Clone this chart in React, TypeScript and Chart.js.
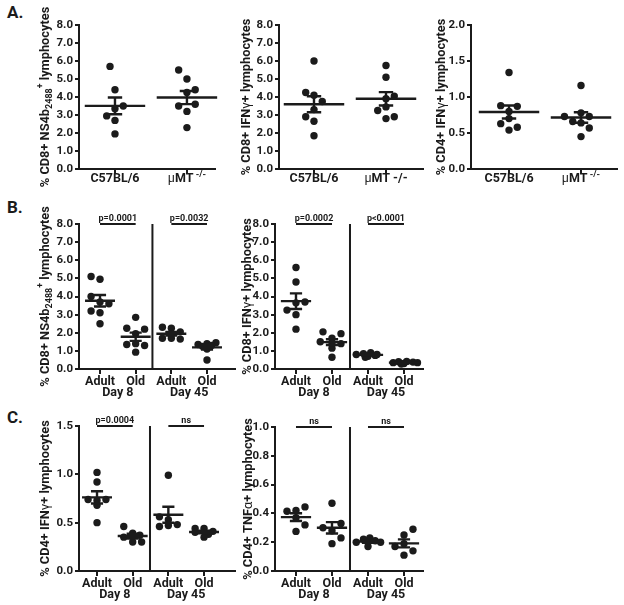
import React, { useEffect, useRef } from "react";
import { Chart, registerables } from "chart.js";

Chart.register(...registerables);

const INK = "#1b1b1b";
const FAM = 'Roboto, "DejaVu Sans", sans-serif';

// ---------- labels ----------
const aGroupLabels = ["C57BL/6", "μMT"];
const bcGroupLabels = ["Adult", "Old", "Adult", "Old"];
const bcDayLabels = ["Day 8", "Day 45"];
const sigB1 = ["p=0.0001", "p=0.0032"];
const sigB2 = ["p=0.0002", "p<0.0001"];
const sigC1 = ["p=0.0004", "ns"];
const sigC2 = ["ns", "ns"];

// ---------- data (values + jitter column) ----------
// A1  % CD8+ NS4b2488+
const a1C57 = [5.7, 4.4, 3.5, 3.35, 2.95, 2.7, 1.95];
const a1C57Col = [-0.6, 0, 1, 0, -1, 0, 0];
const a1MT = [5.5, 5.0, 4.4, 4.25, 3.6, 3.5, 3.2, 2.3];
const a1MTCol = [-1, 0, 1, 0, 1, -1, 0, 0];
// A2  % CD8+ IFNγ+
const a2C57 = [6.0, 4.25, 4.1, 3.75, 3.3, 2.9, 2.65, 1.85];
const a2C57Col = [0, -1, 0, 1, 0, -1, 0, 0];
const a2MT = [5.75, 5.1, 4.05, 3.9, 3.45, 3.25, 2.9, 2.8];
const a2MTCol = [0, 0, 1, 0, 0, -1, 1, 0];
// A3  % CD4+ IFNγ+
const a3C57 = [1.34, 0.88, 0.87, 0.8, 0.7, 0.63, 0.58, 0.54];
const a3C57Col = [0, -1, 1, 0, 0, -1, 1, 0];
const a3MT = [1.16, 0.78, 0.73, 0.73, 0.66, 0.64, 0.57, 0.45];
const a3MTCol = [0, 0, -2, 1, -1, 0, 1, 0];
// B1  % CD8+ NS4b2488+ (Adult D8, Old D8, Adult D45, Old D45)
const b1AdultD8 = [5.1, 4.95, 4.0, 3.7, 3.6, 3.2, 3.1, 2.5];
const b1AdultD8Col = [-1, 0, -1, 0, 1, -1, 0, 0];
const b1OldD8 = [2.85, 2.25, 2.2, 1.95, 1.4, 1.35, 1.3, 0.93];
const b1OldD8Col = [0, -1, 1, 0, 0, -1, 1, 0];
const b1AdultD45 = [2.3, 2.25, 2.05, 1.95, 1.7, 1.7, 1.65];
const b1AdultD45Col = [-1, 0, 1, 0, -1, 0, 1];
const b1OldD45 = [1.45, 1.4, 1.35, 1.3, 1.25, 1.1, 0.5];
const b1OldD45Col = [1, 0, -1, 0.5, -0.5, 0, 0];
// B2  % CD8+ IFNγ+
const b2AdultD8 = [5.6, 4.8, 3.7, 3.65, 3.25, 3.0, 2.2];
const b2AdultD8Col = [0, 0, 1, 0, -1, 0, 0];
const b2OldD8 = [2.05, 1.95, 1.7, 1.5, 1.45, 1.4, 1.15, 0.65];
const b2OldD8Col = [-1, 1, 0, -1.3, 0, 1, 0, 0];
const b2AdultD45 = [0.9, 0.85, 0.8, 0.8, 0.75, 0.7, 0.65];
const b2AdultD45Col = [0.3, -0.5, 1, -1.3, 0.8, 0, -0.3];
const b2OldD45 = [0.42, 0.4, 0.38, 0.35, 0.35, 0.3, 0.28];
const b2OldD45Col = [0.3, -0.6, 1, -1.2, 1.5, 0, -0.3];
// C1  % CD4+ IFNγ+
const c1AdultD8 = [1.02, 0.92, 0.74, 0.73, 0.74, 0.68, 0.5];
const c1AdultD8Col = [0, 0, -1, 0, 1, 0, 0];
const c1OldD8 = [0.46, 0.39, 0.37, 0.35, 0.3, 0.3];
const c1OldD8Col = [-1, 0, 0.8, -1, 0, 1];
const c1AdultD45 = [0.99, 0.56, 0.53, 0.48, 0.47, 0.46];
const c1AdultD45Col = [0, -1, 0, 1, 0, -1];
const c1OldD45 = [0.44, 0.44, 0.41, 0.4, 0.38, 0.35];
const c1OldD45Col = [-1, 0, 1, -1, 0.5, 0];
// C2  % CD4+ TNFα+
const c2AdultD8 = [0.445, 0.42, 0.415, 0.37, 0.32, 0.275];
const c2AdultD8Col = [1, 0, -1, 0, 1, 0];
const c2OldD8 = [0.47, 0.33, 0.3, 0.28, 0.23, 0.19];
const c2OldD8Col = [0, 1, -1, 0, 1, 0];
const c2AdultD45 = [0.23, 0.22, 0.21, 0.2, 0.2, 0.17];
const c2AdultD45Col = [0.2, -0.5, 0.8, -1.3, 1.4, 0];
const c2OldD45 = [0.29, 0.25, 0.19, 0.17, 0.14, 0.11];
const c2OldD45Col = [1, 0, 0, -1, 1, 0];

// ---------- titles (rich text segments) ----------
type Seg = [string, string];
const titleNS4b: Seg[] = [["% CD8+ NS4b", "n"], ["2488", "sub"], ["+", "sup"], [" lymphocytes", "n"]];
const titleCD8IFN: Seg[] = [["% CD8+ IFN", "n"], ["γ", "g"], ["+ lymphocytes", "n"]];
const titleCD4IFN: Seg[] = [["% CD4+ IFN", "n"], ["γ", "g"], ["+ lymphocytes", "n"]];
const titleCD4TNF: Seg[] = [["% CD4+ TNF", "n"], ["α", "g"], ["+ lymphocytes", "n"]];

const Y_W = 40;
const X_H = 30;
const TITLE_SIZE = 12.8;
const XLAB_SIZE = 12.5;

interface PanelCfg {
  key: string;
  box: number[];
  area: number[];
  yMax: number;
  yStep: number;
  xMin: number;
  xMax: number;
  title: Seg[];
  titleX: number;
  jit: number;
  cap: number;
  meanHalf: number;
  groups: number[][][];
  kind: "A" | "BC";
  supTight?: boolean;
  sig: string[];
  divider: number | null;
}

const panels: PanelCfg[] = [
  {
    key: "A1", box: [28, 0, 200, 200], area: [79, 25, 215, 169], yMax: 8, yStep: 1,
    xMin: 0.5, xMax: 2.39, title: titleNS4b, titleX: 44, jit: 0.115, cap: 0.1, meanHalf: 0.42,
    groups: [[a1C57, a1C57Col], [a1MT, a1MTCol]], kind: "A", supTight: true, sig: [], divider: null,
  },
  {
    key: "A2", box: [230, 0, 200, 200], area: [279, 25, 423, 169], yMax: 8, yStep: 1,
    xMin: 0.514, xMax: 2.514, title: titleCD8IFN, titleX: 245, jit: 0.115, cap: 0.1, meanHalf: 0.42,
    groups: [[a2C57, a2C57Col], [a2MT, a2MTCol]], kind: "A", supTight: false, sig: [], divider: null,
  },
  {
    key: "A3", box: [430, 0, 194, 200], area: [471, 25, 617, 169], yMax: 2, yStep: 0.5,
    xMin: 0.472, xMax: 2.5, title: titleCD4IFN, titleX: 440, jit: 0.115, cap: 0.1, meanHalf: 0.42,
    groups: [[a3C57, a3C57Col], [a3MT, a3MTCol]], kind: "A", supTight: true, sig: [], divider: null,
  },
  {
    key: "B1", box: [28, 198, 215, 202], area: [79, 224, 235, 369], yMax: 8, yStep: 1,
    xMin: 0.411, xMax: 4.785, title: titleNS4b, titleX: 44, jit: 0.25, cap: 0.17, meanHalf: 0.42,
    groups: [[b1AdultD8, b1AdultD8Col], [b1OldD8, b1OldD8Col], [b1AdultD45, b1AdultD45Col], [b1OldD45, b1OldD45Col]],
    kind: "BC", sig: sigB1, divider: 2.47,
  },
  {
    key: "B2", box: [232, 198, 200, 202], area: [275, 224, 423, 369], yMax: 8, yStep: 1,
    xMin: 0.417, xMax: 4.528, title: titleCD8IFN, titleX: 246, jit: 0.25, cap: 0.17, meanHalf: 0.42,
    groups: [[b2AdultD8, b2AdultD8Col], [b2OldD8, b2OldD8Col], [b2AdultD45, b2AdultD45Col], [b2OldD45, b2OldD45Col]],
    kind: "BC", sig: sigB2, divider: 2.5,
  },
  {
    key: "C1", box: [28, 400, 215, 205], area: [79, 426, 235, 571], yMax: 1.5, yStep: 0.5,
    xMin: 0.495, xMax: 4.868, title: titleCD4IFN, titleX: 44, jit: 0.25, cap: 0.17, meanHalf: 0.42,
    groups: [[c1AdultD8, c1AdultD8Col], [c1OldD8, c1OldD8Col], [c1AdultD45, c1AdultD45Col], [c1OldD45, c1OldD45Col]],
    kind: "BC", sig: sigC1, divider: 2.485,
  },
  {
    key: "C2", box: [232, 400, 200, 205], area: [275, 427, 423, 571], yMax: 1.0, yStep: 0.2,
    xMin: 0.417, xMax: 4.528, title: titleCD4TNF, titleX: 247, jit: 0.25, cap: 0.17, meanHalf: 0.42,
    groups: [[c2AdultD8, c2AdultD8Col], [c2OldD8, c2OldD8Col], [c2AdultD45, c2AdultD45Col], [c2OldD45, c2OldD45Col]],
    kind: "BC", sig: sigC2, divider: 2.5,
  },
];

// ---------- helpers ----------
function segFont(kind: string, size: number) {
  if (kind === "g") return `normal ${size}px ${FAM}`;
  if (kind === "sub" || kind === "sup") return `bold ${Math.round(size * 0.72)}px ${FAM}`;
  return `bold ${size}px ${FAM}`;
}
function segShift(kind: string, size: number) {
  if (kind === "sub") return size * 0.28;
  if (kind === "sup") return -size * 0.4;
  return 0;
}
function richWidth(ctx: CanvasRenderingContext2D, segs: Seg[], size: number) {
  let w = 0;
  for (const [t, k] of segs) {
    ctx.font = segFont(k, size);
    w += ctx.measureText(t).width;
  }
  return w;
}
function drawRich(ctx: CanvasRenderingContext2D, segs: Seg[], size: number, x: number, y: number) {
  ctx.textAlign = "left";
  ctx.textBaseline = "alphabetic";
  let cx = x;
  for (const [t, k] of segs) {
    ctx.font = segFont(k, size);
    ctx.fillText(t, cx, y + segShift(k, size));
    cx += ctx.measureText(t).width;
  }
}
function drawRichCentered(ctx: CanvasRenderingContext2D, segs: Seg[], size: number, x: number, y: number) {
  const w = richWidth(ctx, segs, size);
  drawRich(ctx, segs, size, x - w / 2, y);
}
function stats(v: number[]) {
  const n = v.length;
  const m = v.reduce((a, b) => a + b, 0) / n;
  const sd = Math.sqrt(v.reduce((a, b) => a + (b - m) * (b - m), 0) / (n - 1));
  return { m, sem: sd / Math.sqrt(n) };
}

function makeDeco(p: PanelCfg) {
  return {
    id: "deco" + p.key,
    afterDraw(chart: any) {
      const ctx: CanvasRenderingContext2D = chart.ctx;
      const xs = chart.scales.x;
      const ys = chart.scales.y;
      const ca = chart.chartArea;
      ctx.save();
      ctx.fillStyle = INK;
      // y title
      ctx.save();
      ctx.translate(p.titleX - p.box[0], (ca.top + ca.bottom) / 2);
      ctx.rotate(-Math.PI / 2);
      drawRichCentered(ctx, p.title, TITLE_SIZE, 0, TITLE_SIZE * 0.36);
      ctx.restore();
      // x labels
      if (p.kind === "A") {
        const y = ca.bottom + 13;
        drawRichCentered(ctx, [[aGroupLabels[0], "n"]], XLAB_SIZE, xs.getPixelForValue(1), y);
        const mt: Seg[] = p.supTight
          ? [["μ", "g"], ["MT", "n"], [" -/-", "sup"]]
          : [["μ", "g"], ["MT -/-", "n"]];
        drawRichCentered(ctx, mt, XLAB_SIZE, xs.getPixelForValue(2), y);
      } else {
        bcGroupLabels.forEach((t, i) => {
          drawRichCentered(ctx, [[t, "n"]], XLAB_SIZE, xs.getPixelForValue(i + 1), ca.bottom + 16);
        });
        bcDayLabels.forEach((t, i) => {
          drawRichCentered(ctx, [[t, "n"]], XLAB_SIZE, xs.getPixelForValue(i * 2 + 1.5), ca.bottom + 27);
        });
        const yTop = ys.getPixelForValue(p.yMax);
        p.sig.forEach((t, i) => {
          drawRichCentered(ctx, [[t, "n"]], 9, xs.getPixelForValue(i * 2 + 1.5), yTop - 3);
        });
      }
      ctx.restore();
    },
  };
}

function buildConfig(p: PanelCfg): any {
  const positions = p.groups.map((_, i) => i + 1);
  const pts: any[] = [];
  const lines: any[] = [];
  p.groups.forEach(([vals, cols], gi) => {
    const pos = gi + 1;
    vals.forEach((v, i) => pts.push({ x: pos + cols[i] * p.jit, y: v }));
    const { m, sem } = stats(vals);
    lines.push(
      { x: pos - p.meanHalf, y: m }, { x: pos + p.meanHalf, y: m }, { x: pos, y: null },
      { x: pos, y: m - sem }, { x: pos, y: m + sem }, { x: pos, y: null },
      { x: pos - p.cap, y: m + sem }, { x: pos + p.cap, y: m + sem }, { x: pos, y: null },
      { x: pos - p.cap, y: m - sem }, { x: pos + p.cap, y: m - sem }, { x: pos, y: null }
    );
  });
  const deco: any[] = [];
  if (p.divider !== null) {
    deco.push({ x: p.divider, y: 0 }, { x: p.divider, y: p.yMax }, { x: p.divider, y: null });
  }
  p.sig.forEach((_, i) => {
    deco.push({ x: i * 2 + 1, y: p.yMax }, { x: i * 2 + 2, y: p.yMax }, { x: 0, y: null });
  });

  const axisCommon = {
    grid: { display: true, drawOnChartArea: false, drawTicks: true, color: INK, lineWidth: 2 },
    border: { display: true, color: INK, width: 2 },
  };

  return {
    type: "scatter",
    data: {
      datasets: [
        {
          data: lines, showLine: true, borderColor: INK, borderWidth: 2.4, pointRadius: 0,
          spanGaps: false, clip: false, order: 0,
        },
        {
          data: deco, showLine: true, borderColor: INK, borderWidth: 2, pointRadius: 0,
          spanGaps: false, clip: false, order: 0,
        },
        {
          data: pts, pointRadius: 3.7, pointBackgroundColor: INK, pointBorderWidth: 0,
          pointBorderColor: INK, clip: false, order: 1,
        },
      ],
    },
    options: {
      responsive: false,
      animation: false,
      devicePixelRatio: 1,
      events: [],
      layout: {
        autoPadding: false,
        padding: {
          left: p.area[0] - p.box[0] - Y_W,
          top: p.area[1] - p.box[1],
          right: p.box[0] + p.box[2] - p.area[2],
          bottom: p.box[1] + p.box[3] - p.area[3] - X_H,
        },
      },
      plugins: { legend: { display: false }, tooltip: { enabled: false } },
      scales: {
        x: {
          type: "linear",
          min: p.xMin,
          max: p.xMax,
          afterBuildTicks: (s: any) => {
            s.ticks = positions.map((v) => ({ value: v }));
          },
          ticks: { display: false },
          grid: { ...axisCommon.grid, tickLength: 5 },
          border: axisCommon.border,
          afterFit: (s: any) => {
            s.height = X_H;
          },
        },
        y: {
          type: "linear",
          min: 0,
          max: p.yMax,
          ticks: {
            stepSize: p.yStep,
            autoSkip: false,
            callback: (v: any) => Number(v).toFixed(1),
            font: { family: FAM, weight: "bold", size: 11.5 },
            color: INK,
            padding: 2,
          },
          grid: { ...axisCommon.grid, tickLength: 4 },
          border: axisCommon.border,
          afterFit: (s: any) => {
            s.width = Y_W;
          },
        },
      },
    },
    plugins: [makeDeco(p)],
  };
}

function Panel({ p }: { p: PanelCfg }) {
  const ref = useRef<HTMLCanvasElement>(null);
  useEffect(() => {
    const chart = new Chart(ref.current as HTMLCanvasElement, buildConfig(p));
    return () => chart.destroy();
  }, [p]);
  return (
    <canvas
      ref={ref}
      width={p.box[2]}
      height={p.box[3]}
      style={{ position: "absolute", left: p.box[0], top: p.box[1], width: p.box[2], height: p.box[3] }}
    />
  );
}

const letters = [
  { t: "A.", top: 4 },
  { t: "B.", top: 199 },
  { t: "C.", top: 409 },
];

export default function App() {
  return (
    <div
      style={{
        position: "absolute", left: 0, top: 0, width: 624, height: 605,
        background: "#ffffff", overflow: "hidden",
      }}
    >
      {letters.map((l) => (
        <div
          key={l.t}
          style={{
            position: "absolute", left: 7, top: l.top, font: `bold 17px ${FAM}`,
            lineHeight: "16px", color: INK,
          }}
        >
          {l.t}
        </div>
      ))}
      {panels.map((p) => (
        <Panel key={p.key} p={p} />
      ))}
    </div>
  );
}
